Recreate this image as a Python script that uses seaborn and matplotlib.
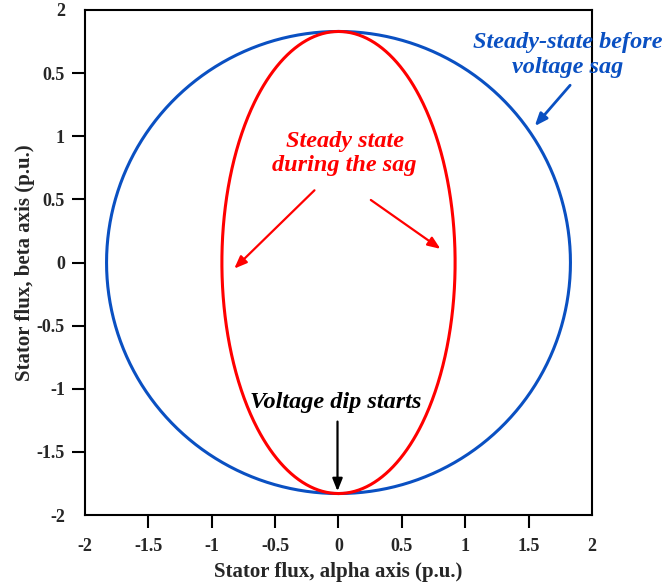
import numpy as np
import pandas as pd
import matplotlib
matplotlib.use("Agg")
import matplotlib.pyplot as plt
import seaborn as sns

# ---- data ----
pre_sag_radius_alpha = 1.83   # steady state before sag (circle)
pre_sag_radius_beta = 1.83
sag_radius_alpha = 0.92       # steady state during sag (ellipse)
sag_radius_beta = 1.83
x_ticks = [-2, -1.5, -1, -0.5, 0, 0.5, 1, 1.5, 2]
x_tick_labels = ["-2", "-1.5", "-1", "-0.5", "0", "0.5", "1", "1.5", "2"]
y_ticks = [-2, -1.5, -1, -0.5, 0, 0.5, 1, 1.5, 2]
y_tick_labels = ["-2", "-1.5", "-1", "-0.5", "0", "0.5", "1", "0.5", "2"]

theta = np.linspace(0, 2 * np.pi, 721)
df = pd.concat([
    pd.DataFrame({"alpha": pre_sag_radius_alpha * np.sin(theta),
                  "beta": -pre_sag_radius_beta * np.cos(theta),
                  "state": "before", "order": np.arange(theta.size)}),
    pd.DataFrame({"alpha": sag_radius_alpha * np.sin(theta),
                  "beta": -sag_radius_beta * np.cos(theta),
                  "state": "during", "order": np.arange(theta.size)}),
])

sns.set_style("white")
plt.rcParams["font.family"] = ["Liberation Serif", "DejaVu Serif"]

BLUE = "#0A50C2"
RED = "#FF0000"

fig = plt.figure(figsize=(6.67, 5.82), dpi=100)
ax = fig.add_axes([85 / 667, 1 - 515 / 582, (592 - 85) / 667, (515 - 10) / 582])

sns.lineplot(data=df, x="alpha", y="beta", hue="state", units="state",
             estimator=None, sort=False, palette={"before": BLUE, "during": RED},
             linewidth=2.2, legend=False, ax=ax)

ax.set_xlim(-2, 2)
ax.set_ylim(-2, 2)
ax.set_xticks(x_ticks)
ax.set_xticklabels(x_tick_labels)
ax.set_yticks(y_ticks)
ax.set_yticklabels(y_tick_labels)
for lab in ax.get_xticklabels() + ax.get_yticklabels():
    lab.set_fontweight("bold")
    lab.set_fontsize(13)
ax.tick_params(axis="both", direction="out", length=9.5, width=1.5, color="black",
               bottom=True, left=True)
ax.tick_params(axis="x", pad=7)
ax.tick_params(axis="y", pad=5)
for t in (ax.xaxis.get_major_ticks()[0], ax.xaxis.get_major_ticks()[-1],
          ax.yaxis.get_major_ticks()[0], ax.yaxis.get_major_ticks()[-1]):
    t.tick1line.set_visible(False)
for s in ax.spines.values():
    s.set_visible(True)
    s.set_color("black")
    s.set_linewidth(1.5)

ax.set_xlabel("Stator flux, alpha axis (p.u.)", fontsize=15, fontweight="bold", labelpad=5)
ax.set_ylabel("Stator flux, beta axis (p.u.)", fontsize=15, fontweight="bold", labelpad=1)

def px2d(px, py):
    return ((px - 339) / 126.5, (262 - py) / 126.0)

ARROW = "-|>,head_length=0.75,head_width=0.3"

# Blue annotation
ax.text(*px2d(568, 55), "Steady-state before\nvoltage sag", color=BLUE, fontsize=17.5,
        fontweight="bold", fontstyle="italic", ha="center", va="center",
        linespacing=1.2, clip_on=False)
ax.annotate("", xy=px2d(533, 128), xytext=px2d(572, 83),
            arrowprops=dict(arrowstyle=ARROW, color=BLUE, lw=2), annotation_clip=False)

# Red annotation
ax.text(*px2d(345, 153), "Steady state\nduring the sag", color=RED, fontsize=17.5,
        fontweight="bold", fontstyle="italic", ha="center", va="center",
        linespacing=1.2)
ax.annotate("", xy=px2d(233, 270), xytext=px2d(317, 188),
            arrowprops=dict(arrowstyle=ARROW, color=RED, lw=1.6))
ax.annotate("", xy=px2d(443, 250), xytext=px2d(369, 198),
            arrowprops=dict(arrowstyle=ARROW, color=RED, lw=1.6))

# Black annotation
ax.text(*px2d(336, 402), "Voltage dip starts", color="black", fontsize=17.5,
        fontweight="bold", fontstyle="italic", ha="center", va="center")
ax.annotate("", xy=px2d(338, 493), xytext=px2d(338, 418),
            arrowprops=dict(arrowstyle=ARROW, color="black", lw=1.6))

fig.savefig("out.png", dpi=100)
